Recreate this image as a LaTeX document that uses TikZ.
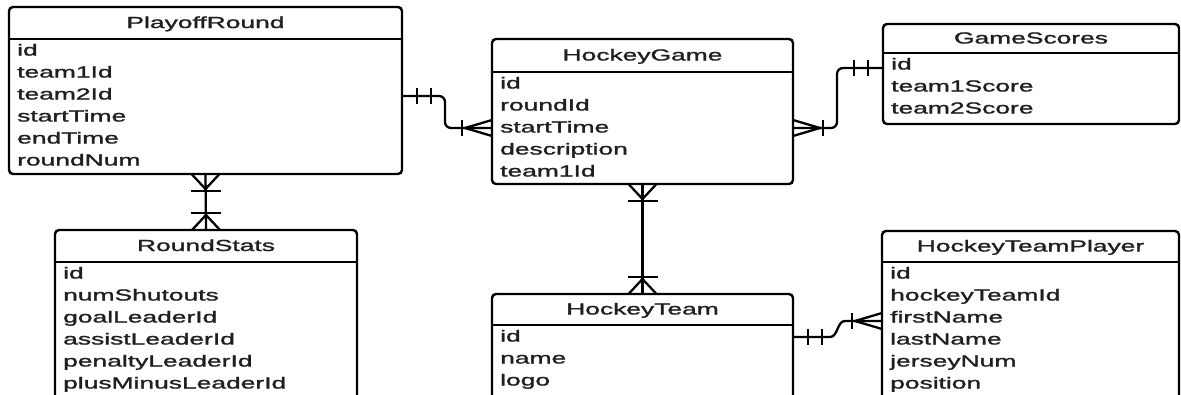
\documentclass[tikz,border=0pt]{standalone}
\usepackage{fontspec}
\setmainfont{Liberation Sans}
\newfontfamily\erfont{Liberation Sans}[FakeBold=1.2]
\newcommand{\st}[1]{\scalebox{1.65}[1]{#1}}
\tikzset{
  entbox/.style={draw, line width=2.4pt, rounded corners=4pt, inner sep=0pt, outer sep=0pt, anchor=north west},
  hline/.style={line width=2pt},
  hdr/.style={inner sep=0pt, text height=11.5pt, text depth=3.5pt, font=\erfont\fontsize{16}{19}\selectfont, text=black!88},
  fld/.style={inner sep=0pt, anchor=west, text height=11.5pt, text depth=3.5pt, font=\erfont\fontsize{16}{19}\selectfont, text=black!88},
  conn/.style={line width=2.3pt},
  crow/.pic={\draw[conn] (0,-8) -- (-27,0) -- (0,8); \draw[conn] (-30,-8) -- (-30,8);},
  crowv/.pic={\draw[conn] (-14,0) -- (0,-15) -- (14,0); \draw[conn] (-15,-17) -- (15,-17);},
  dbar/.pic={\draw[conn] (15,-8) -- (15,8) (29,-8) -- (29,8);}
}
% name, left, top, right, bottom, header line y, title, rows
\newcommand{\erbox}[8]{%
  \node[entbox, minimum width={#4-#2}, minimum height={#5-#3}] (#1) at (#2,#3) {};
  \draw[hline] (#1.west |- 0,#6) -- (#1.east |- 0,#6);
  \node[hdr] (#1-title) at ({(#2+#4)/2},{(#3+#6)/2+1}) {\st{#7}};
  \foreach \r [count=\i from 0] in {#8}
    \node[fld] (#1-\i) at ({#2+8},{#6+12.5+22*\i}) {\st{\r}};
}
\begin{document}
\begin{tikzpicture}[x=1pt, y=-1pt]
\useasboundingbox (0,0) rectangle (1181,394);
\clip (0,0) rectangle (1181,394);
\erbox{pr}{9}{7}{402}{174}{39}{PlayoffRound}{id,team1Id,team2Id,startTime,endTime,roundNum}
\erbox{hg}{492}{39}{793}{184}{72}{HockeyGame}{id,roundId,startTime,description,team1Id}
\erbox{gs}{883}{24}{1179}{124}{53}{GameScores}{id,team1Score,team2Score}
\erbox{rs}{55}{230}{357}{412}{262}{RoundStats}{id,numShutouts,goalLeaderId,assistLeaderId,penaltyLeaderId,plusMinusLeaderId}
\erbox{ht}{492}{294}{793}{412}{325}{HockeyTeam}{id,name,logo}
\erbox{htp}{882}{231}{1179}{412}{262}{HockeyTeamPlayer}{id,hockeyTeamId,firstName,lastName,jerseyNum,position}

% PlayoffRound -> HockeyGame
\draw[conn, rounded corners=6pt] ([yshift=-89pt]pr.north east) -- ++(43,0) |- ([yshift=-89pt]hg.north west);
\path ([yshift=-89pt]pr.north east) pic {dbar};
\path ([yshift=-89pt]hg.north west) pic {crow};
% GameScores -> HockeyGame
\draw[conn, rounded corners=6pt] ([yshift=-44pt]gs.north west) -- ++(-46,0) |- ([yshift=-89pt]hg.north east);
\path ([yshift=-44pt]gs.north west) pic[xscale=-1] {dbar};
\path ([yshift=-89pt]hg.north east) pic[xscale=-1] {crow};
% HockeyGame -> HockeyTeam
\draw[conn] (hg.south) -- (ht.north);
\path (hg.south) pic[yscale=-1] {crowv};
\path (ht.north) pic {crowv};
% PlayoffRound -> RoundStats
\draw[conn] (pr.south) -- (rs.north);
\path (pr.south) pic[yscale=-1] {crowv};
\path (rs.north) pic {crowv};
% HockeyTeam -> HockeyTeamPlayer
\draw[conn] ([yshift=-43pt]ht.north east) -- ++(37,0) .. controls +(8,0) and +(-8,0) .. ++(15,-16) -- ([yshift=-90pt]htp.north west);
\path ([yshift=-43pt]ht.north east) pic {dbar};
\path ([yshift=-90pt]htp.north west) pic {crow};
\end{tikzpicture}
\end{document}
